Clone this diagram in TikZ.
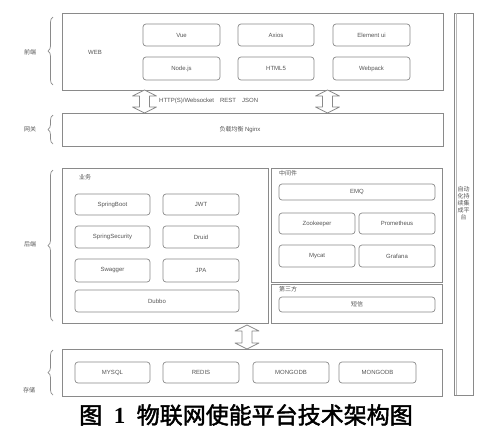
\documentclass[tikz,border=0pt]{standalone}
\usepackage{fontspec}
\setmainfont{Liberation Sans}
\newfontfamily\cjk[AutoFakeBold=2]{Noto Sans CJK SC}
\newfontfamily\capnum{Liberation Serif}
\usetikzlibrary{decorations.pathreplacing}
\definecolor{lc}{HTML}{8A8A8A}
\definecolor{tc}{HTML}{555555}
\newcommand\myDblArrow[3]{%
  \draw[darr] (#1-5,#2+6) -- (#1-12,#2+6) -- (#1,#2) -- (#1+12,#2+6) -- (#1+5,#2+6)
    -- (#1+5,#3-6) -- (#1+12,#3-6) -- (#1,#3) -- (#1-12,#3-6) -- (#1-5,#3-6) -- cycle;}
\begin{document}
\begin{tikzpicture}[x=1pt,y=-1pt,
  outer/.style={draw=lc,line width=0.8pt},
  ibox/.style={draw=lc,line width=0.7pt,rounded corners=3pt,text=tc,font=\fontsize{6}{7}\selectfont,inner sep=0pt},
  lbl/.style={text=tc,font=\fontsize{6}{7}\selectfont\cjk,inner sep=0pt},
  brc/.style={draw=lc,line width=0.7pt,decorate,decoration={brace,amplitude=5pt}},
  darr/.style={draw=lc,line width=0.7pt,fill=white,line join=round}
]
\useasboundingbox (0,0) rectangle (500,437);
\fill[white] (0,0) rectangle (500,437);

% right column
\draw[outer] (454,13) rectangle (473,395);
\draw[draw=lc!60,line width=0.5pt] (456.5,13) -- (456.5,395);
\node[lbl,align=center,font=\fontsize{6}{7}\selectfont\cjk] (ci) at (463.5,203) {自动\\化持\\续集\\成平\\台};

% front end
\draw[outer] (62,13) rectangle (443,90);
\node[lbl,font=\fontsize{6}{7}\selectfont] (web) at (95,52) {WEB};
\node[ibox,minimum width=77,minimum height=22] (vue) at (181.5,35) {Vue};
\node[ibox,minimum width=76,minimum height=22] (axios) at (276,35) {Axios};
\node[ibox,minimum width=77,minimum height=22] (eui) at (371.5,35) {Element ui};
\node[ibox,minimum width=77,minimum height=23] (node) at (181.5,68.5) {Node.js};
\node[ibox,minimum width=76,minimum height=23] (html) at (276,68.5) {HTML5};
\node[ibox,minimum width=77,minimum height=23] (webpack) at (371.5,68.5) {Webpack};
\draw[brc] (53,85) -- (53,17);
\node[lbl] (qd) at (30,52) {前端};

% arrows front-gateway
\myDblArrow{144.5}{90}{113}
\myDblArrow{327.5}{90}{113}
\node[lbl,font=\fontsize{6}{7}\selectfont,anchor=west] (proto) at (159,101) {HTTP(S)/Websocket\quad REST\quad JSON};

% gateway
\draw[outer] (62,113) rectangle (443,146);
\node[lbl] (ngx) at (240,129.5) {负载均衡 \fontspec{Liberation Sans}Nginx};
\draw[brc] (53,144) -- (53,115);
\node[lbl] (wg) at (30,129) {网关};

% backend business
\draw[outer] (62,168) rectangle (268,323);
\node[lbl,anchor=west] (yw) at (79,177) {业务};
\node[ibox,minimum width=75,minimum height=21] (sb) at (112.5,204.5) {SpringBoot};
\node[ibox,minimum width=76,minimum height=21] (jwt) at (201,204.5) {JWT};
\node[ibox,minimum width=75,minimum height=22] (ss) at (112.5,237) {SpringSecurity};
\node[ibox,minimum width=76,minimum height=22] (druid) at (201,237) {Druid};
\node[ibox,minimum width=75,minimum height=23] (sw) at (112.5,270.5) {Swagger};
\node[ibox,minimum width=76,minimum height=23] (jpa) at (201,270.5) {JPA};
\node[ibox,minimum width=164,minimum height=22] (dubbo) at (157,301) {Dubbo};

% middleware
\draw[outer] (271,168) rectangle (442,282);
\node[lbl,anchor=west] (zj) at (279,173) {中间件};
\node[ibox,minimum width=156,minimum height=16] (emq) at (357,192) {EMQ};
\node[ibox,minimum width=76,minimum height=21] (zk) at (317,223.5) {Zookeeper};
\node[ibox,minimum width=76,minimum height=21] (prom) at (397,223.5) {Prometheus};
\node[ibox,minimum width=76,minimum height=22] (mycat) at (317,256) {Mycat};
\node[ibox,minimum width=76,minimum height=22] (graf) at (397,256) {Grafana};

% third party
\draw[outer] (271,284) rectangle (442,323);
\node[lbl,anchor=west] (dsf) at (279,289) {第三方};
\node[ibox,minimum width=156,minimum height=15,font=\fontsize{6}{7}\selectfont\cjk] (sms) at (357,304.5) {短信};

\draw[brc] (53,321) -- (53,170);
\node[lbl] (hd) at (30,244) {后端};

% arrow backend-storage
\myDblArrow{247}{325}{349}

% storage
\draw[outer] (62,349) rectangle (442,396);
\node[ibox,minimum width=75,minimum height=21] (mysql) at (112.5,372.5) {MYSQL};
\node[ibox,minimum width=76,minimum height=21] (redis) at (201,372.5) {REDIS};
\node[ibox,minimum width=76,minimum height=21] (mg1) at (291,372.5) {MONGODB};
\node[ibox,minimum width=77,minimum height=21] (mg2) at (377.5,372.5) {MONGODB};
\draw[brc] (53,395) -- (53,350);
\node[lbl] (cc) at (29,390) {存储};

% caption
\node[inner sep=0pt,text=black,font=\fontsize{23}{26}\selectfont] (cap) at (246,415) {{\cjk\bfseries 图}\enspace{\capnum\bfseries 1}\enspace{\cjk\bfseries 物联网使能平台技术架构图}};
\end{tikzpicture}
\end{document}
